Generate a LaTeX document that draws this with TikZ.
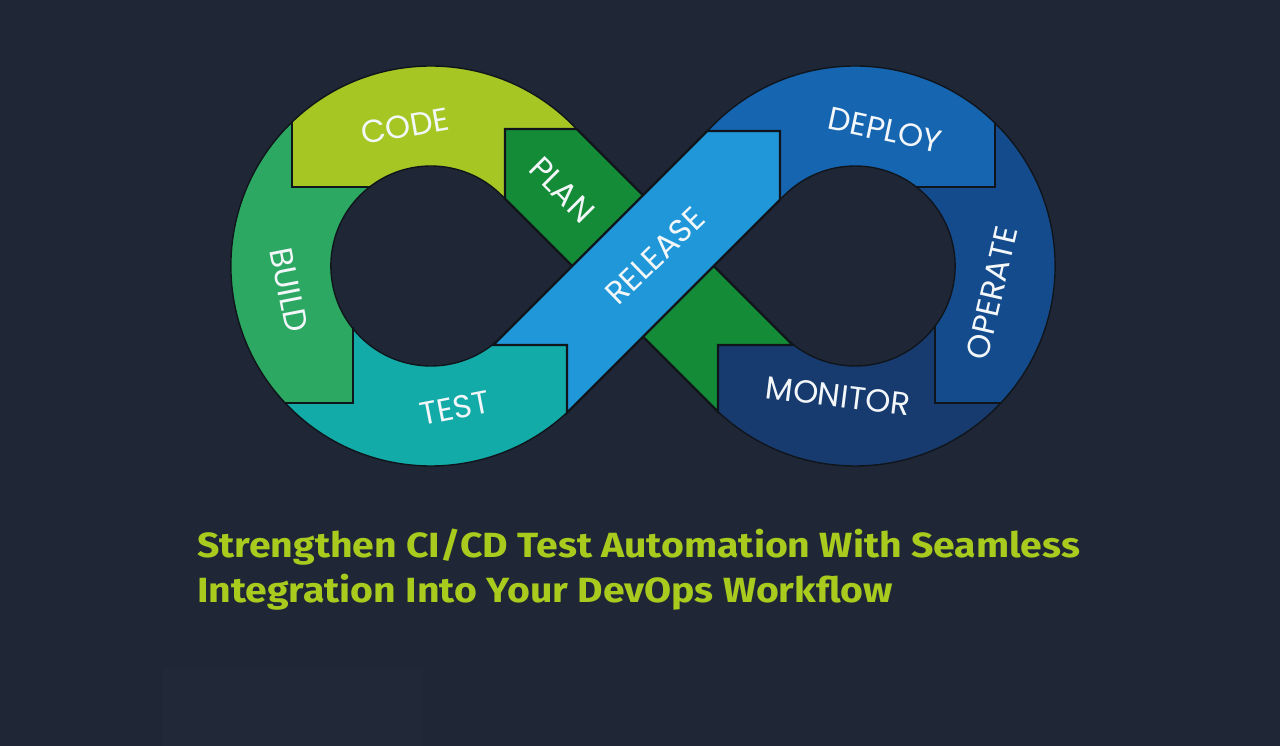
\documentclass[tikz,border=0pt]{standalone}
\usepackage{fontspec}
\setmainfont{Fira Sans}
\newfontfamily\labelfont{Poppins}
\usepackage{tikz}

\definecolor{bgdark}{HTML}{1F2736}
\definecolor{bgpanel}{HTML}{212938}
\definecolor{codecol}{HTML}{A6C624}
\definecolor{buildcol}{HTML}{2DA862}
\definecolor{testcol}{HTML}{12ABA8}
\definecolor{plancol}{HTML}{148C37}
\definecolor{releasecol}{HTML}{1F97D8}
\definecolor{deploycol}{HTML}{1565B0}
\definecolor{operatecol}{HTML}{144B8C}
\definecolor{monitorcol}{HTML}{173B6F}
\definecolor{edgedark}{HTML}{10151C}
\definecolor{labelwhite}{HTML}{F3F7FA}
\definecolor{titlegreen}{HTML}{A8CB1E}

% figure-eight: outer contour and the two holes
\newcommand{\infinityshape}{(-70.71,141.42) arc[start angle=45,end angle=315,radius=200]
  -- (0,-70.71) -- (70.71,-141.42) arc[start angle=-135,end angle=135,radius=200]
  -- (0,70.71) -- cycle
  (-141.42,70.71) arc[start angle=45,end angle=315,radius=100] -- (-70.71,0) -- cycle
  (141.42,70.71) arc[start angle=135,end angle=-135,radius=100] -- (70.71,0) -- cycle}

\begin{document}
\begin{tikzpicture}[
  x=1pt, y=1pt,
  seglabel/.style={text=labelwhite, font=\labelfont\fontsize{32}{32}\selectfont,
                   inner sep=0pt},
  headline/.style={text=titlegreen, font=\bfseries\fontsize{35}{35}\selectfont,
                   anchor=base west, inner sep=0pt, xscale=1.12},
  stepline/.style={draw=edgedark, line width=2.6pt, line join=miter},
  bandpiece/.style={draw=edgedark, line width=2.4pt, line join=miter}
]
\useasboundingbox (-643,-480) rectangle (637,266);
\fill[bgdark] (-643,-480) rectangle (637,266);
\fill[bgpanel] (-480,-480) rectangle (-220,-402);
% Left loop
\begin{scope}
  \clip (-351,400) -- (-351,79) -- (-250,79) -- (-212,40) -- (0,40) -- (0,400) -- cycle;
  \fill[codecol, even odd rule] \infinityshape;
\end{scope}
\begin{scope}
  \clip (-500,400) -- (-351,400) -- (-351,79) -- (-250,79) -- (-290,-40) -- (-290,-137)
        -- (-500,-137) -- cycle;
  \fill[buildcol, even odd rule] \infinityshape;
\end{scope}
\begin{scope}
  \clip (-500,-137) -- (-290,-137) -- (-290,-40) -- (-180,-79) -- (-76,-79) -- (-76,-400)
        -- (-500,-400) -- cycle;
  \fill[testcol, even odd rule] \infinityshape;
\end{scope}
% Right loop
\begin{scope}
  \clip (0,400) -- (352,400) -- (352,79) -- (250,79) -- (212,40) -- (0,40) -- cycle;
  \fill[deploycol, even odd rule] \infinityshape;
\end{scope}
\begin{scope}
  \clip (352,400) -- (600,400) -- (600,-137) -- (292,-137) -- (292,-40) -- (250,79)
        -- (352,79) -- cycle;
  \fill[operatecol, even odd rule] \infinityshape;
\end{scope}
\begin{scope}
  \clip (0,-400) -- (600,-400) -- (600,-137) -- (292,-137) -- (292,-40) -- (0,-40) -- cycle;
  \fill[monitorcol, even odd rule] \infinityshape;
\end{scope}
\draw[edgedark, line width=1.4pt] \infinityshape;
% Steps between segments
\draw[stepline] (-351,145) -- (-351,79) -- (-272,79);
\draw[stepline] (-290,-61) -- (-290,-137) -- (-359,-137);
\draw[stepline] (352,144) -- (352,79) -- (272,79);
\draw[stepline] (292,-59) -- (292,-137) -- (359,-137);
% Crossing bands
\filldraw[bandpiece, fill=plancol] (75,-145.71) -- (75,-79) -- (149.71,-79) -- (-66.29,137)
      -- (-138,137) -- (-138,67.29) -- cycle;
\filldraw[bandpiece, fill=releasecol] (-76,-146.71) -- (-76,-79) -- (-149.71,-79)
      -- (64.29,135) -- (137,135) -- (137,66.29) -- cycle;
% Labels
\node[seglabel, rotate=10]  (code)    at (-238,140) {CODE};
\node[seglabel, rotate=-79] (build)   at (-354,-24) {BUILD};
\node[seglabel, rotate=11]  (test)    at (-188,-142) {TEST};
\node[seglabel, rotate=-45] (plan)    at (-81,76) {PLAN};
\node[seglabel, rotate=44]  (release) at (12,10) {RELEASE};
\node[seglabel, rotate=-12] (deploy)  at (242,136) {DEPLOY};
\node[seglabel, rotate=77]  (operate) at (349,-27) {OPERATE};
\node[seglabel, rotate=-7]  (monitor) at (195,-130) {MONITOR};
% Title
\node[headline] (title1) at (-446,-291) {Strengthen CI/CD Test Automation With Seamless};
\node[headline] (title2) at (-446,-336) {Integration Into Your DevOps Workflow};
\end{tikzpicture}
\end{document}
